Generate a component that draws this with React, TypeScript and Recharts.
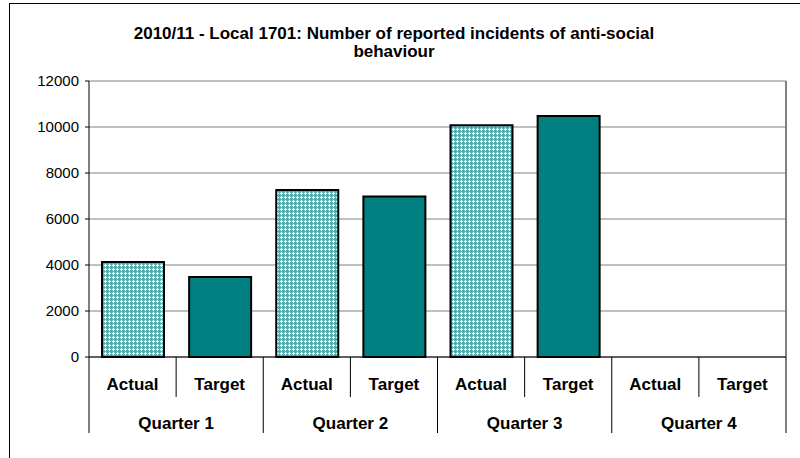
import { BarChart, Bar, XAxis, YAxis, CartesianGrid, Cell } from 'recharts';

const categories = ['Actual', 'Target', 'Actual', 'Target', 'Actual', 'Target', 'Actual', 'Target'];
const quarters = ['Quarter 1', 'Quarter 2', 'Quarter 3', 'Quarter 4'];
const incidents = [4130, 3480, 7260, 6980, 10080, 10480, null, null];
const yTicks = [0, 2000, 4000, 6000, 8000, 10000, 12000];

const data = categories.map((c, i) => ({
  name: c,
  quarter: quarters[Math.floor(i / 2)],
  value: incidents[i],
}));

const W = 800;
const H = 458;
const xAxisHeight = 30;
const margin = { top: 81, right: 14, bottom: 101 - xAxisHeight, left: 9 };
const yAxisWidth = 80;
const plotLeft = margin.left + yAxisWidth;
const band = (W - margin.right - plotLeft) / categories.length;
const axisY = 357;
const font = '"Liberation Sans", Arial, sans-serif';

function CategoryTick(props: any) {
  const { x, payload } = props;
  const i = payload.index;
  const left = x - band / 2;
  return (
    <g>
      <line x1={left} x2={left} y1={axisY} y2={i % 2 === 0 ? 433 : 397} stroke="#000" strokeWidth={1} />
      {i === categories.length - 1 && (
        <line x1={x + band / 2} x2={x + band / 2} y1={axisY} y2={433} stroke="#000" strokeWidth={1} />
      )}
      <text x={x} y={384} textAnchor="middle" dominantBaseline="central" fontFamily={font} fontWeight="bold" fontSize={17} fill="#000">
        {payload.value}
      </text>
      {i % 2 === 0 && (
        <text x={x + band / 2} y={423} textAnchor="middle" dominantBaseline="central" fontFamily={font} fontWeight="bold" fontSize={17} fill="#000">
          {data[i].quarter}
        </text>
      )}
    </g>
  );
}

export default function App() {
  return (
    <div style={{ position: 'absolute', left: 0, top: 0, width: W, height: H, overflow: 'hidden', background: '#fff' }}>
      <div style={{ position: 'absolute', left: 9, top: 3, width: W, height: H, border: '1px solid #000', boxSizing: 'border-box' }} />
      <div
        style={{
          position: 'absolute', left: 0, top: 25, width: 788, textAlign: 'center',
          fontFamily: font, fontWeight: 'bold', fontSize: 17, lineHeight: '18px', color: '#000',
        }}
      >
        2010/11 - Local 1701: Number of reported incidents of anti-social
        <br />
        behaviour
      </div>
      <div style={{ position: 'absolute', left: 0, top: 0 }}>
        <BarChart width={W} height={H} data={data} margin={margin} barCategoryGap={0} barSize={62}>
          <defs>
            <pattern id="dots" width="4" height="4" patternUnits="userSpaceOnUse">
              <rect width="4" height="4" fill="#5fb5b5" />
              <rect x="1" y="0" width="1" height="3" fill="#ffffff" />
              <rect x="0" y="1" width="3" height="1" fill="#ffffff" />
              <rect x="3" y="3" width="1" height="1" fill="#2a9a9a" />
            </pattern>
          </defs>
          <CartesianGrid horizontal vertical={false} stroke="#808080" strokeWidth={1} />
          {/* plot area border on the right */}
          <CartesianGrid
            horizontal={false}
            vertical
            stroke="#808080"
            strokeWidth={2}
            verticalCoordinatesGenerator={({ offset }: any) => [offset.left + offset.width]}
          />
          <XAxis
            dataKey="name"
            height={xAxisHeight}
            axisLine={{ stroke: '#000', strokeWidth: 1 }}
            tickLine={false}
            tick={<CategoryTick />}
            interval={0}
          />
          <YAxis
            width={yAxisWidth}
            domain={[0, 12000]}
            ticks={yTicks}
            axisLine={{ stroke: '#000', strokeWidth: 1 }}
            tickLine={{ stroke: '#000' }}
            tickSize={4}
            tickMargin={6}
            tick={{ fill: '#000', fontSize: 15, fontFamily: font }}
          />
          <Bar dataKey="value" stroke="#000" strokeWidth={2} isAnimationActive={false}>
            {data.map((d, i) => (
              <Cell key={i} fill={i % 2 === 0 ? 'url(#dots)' : '#008080'} />
            ))}
          </Bar>
        </BarChart>
      </div>
    </div>
  );
}
